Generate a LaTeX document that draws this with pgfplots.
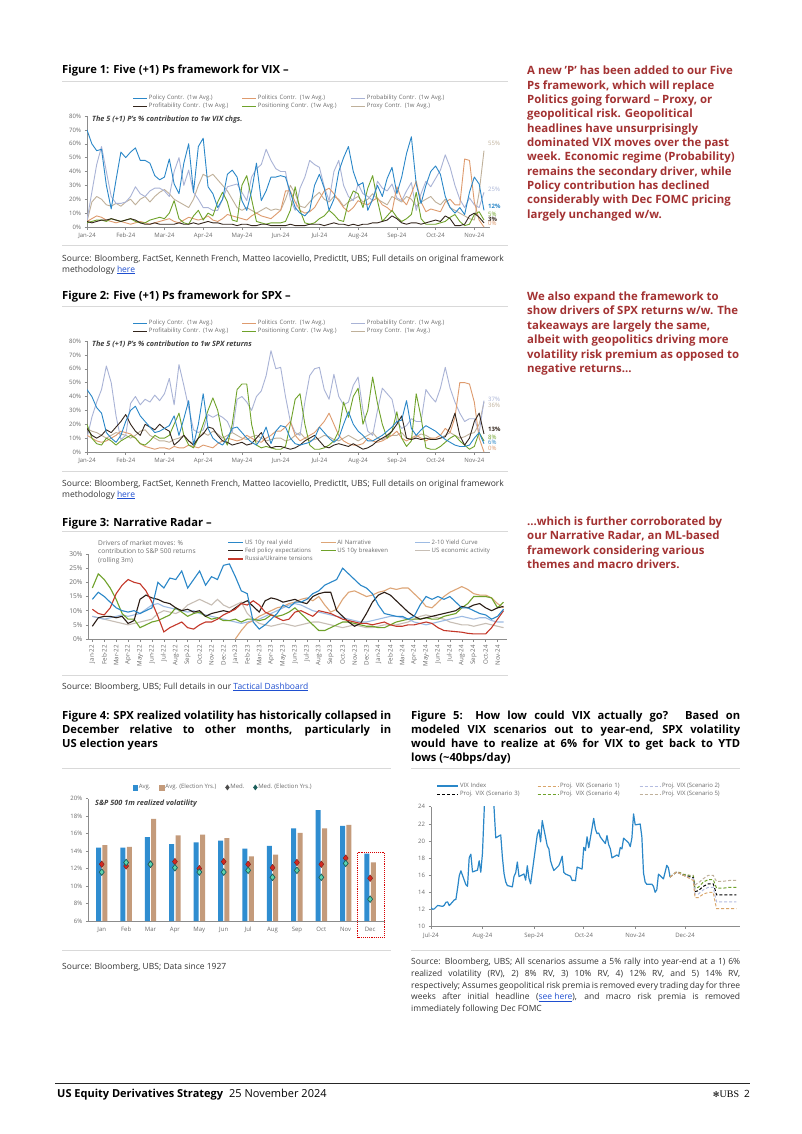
\documentclass[border=0pt]{standalone}
\usepackage{fontspec}
\setmainfont{Open Sans}
\newfontfamily\dejavu{DejaVu Sans}
\newfontfamily\lserif{Liberation Serif}
\usepackage{pgfplots}
\pgfplotsset{compat=1.18}
\definecolor{cpol}{HTML}{2A87C8}
\definecolor{cpolit}{HTML}{DE9B6E}
\definecolor{cprob}{HTML}{A9B3D6}
\definecolor{cprof}{HTML}{33251C}
\definecolor{cposn}{HTML}{6FA22A}
\definecolor{cprox}{HTML}{BFB09A}
\definecolor{axgray}{HTML}{8C8C8C}
\definecolor{labgray}{HTML}{6B6B6B}
\definecolor{rulegray}{HTML}{D9D9D9}
\definecolor{ubsred}{HTML}{A33232}
\definecolor{linkblue}{HTML}{1F4FD0}
\definecolor{srcgray}{HTML}{333333}
\definecolor{c3ai}{HTML}{DDA577}
\definecolor{c3yc}{HTML}{9DBBE3}
\definecolor{c3fed}{HTML}{2B1D16}
\definecolor{c3ea}{HTML}{C7BEB5}
\definecolor{c3ru}{HTML}{C4382A}
\definecolor{barblue}{HTML}{2F8DD0}
\definecolor{bartan}{HTML}{C49B7B}
\definecolor{medred}{HTML}{D42A22}
\definecolor{medredline}{HTML}{7A1A14}
\definecolor{medgreen}{HTML}{5CD6B0}
\definecolor{medgreenline}{HTML}{1B5E5A}
\definecolor{sc1}{HTML}{D9A56A}
\definecolor{sc2}{HTML}{B4BCE0}
\definecolor{sc4}{HTML}{6FA22A}
\definecolor{sc5}{HTML}{BFB09A}

\pgfplotsset{
  pg/.style={
    scale only axis, anchor=south west,
    axis x line*=bottom, axis y line*=left,
    axis line style={draw=axgray, line width=0.6pt},
    every tick/.style={draw=axgray, line width=0.5pt},
    tick align=outside, major tick length=2.5pt,
    tick label style={font=\fontsize{6}{7}\selectfont, text=labgray},
    /pgf/number format/assume math mode=true,
    legend style={draw=none, fill=none, font=\fontsize{6}{7}\selectfont, inner sep=0pt, outer sep=0pt, row sep=0pt,
      nodes={text=labgray, inner sep=1pt}},
    legend cell align=left,
  },
  ln/.style={line width=0.9pt, line join=round},
  sqlegend/.style={legend image code/.code={\fill[##1] (0pt,-2.3pt) rectangle (4.6pt,2.3pt);}},
}
\newcommand{\ser}[3]{\addplot[#1,forget plot] table[row sep=\\,header=false,x expr={#2},y index=0]{#3};}
\newcommand{\sertwo}[2]{\addplot[#1,forget plot] table[row sep=\\,header=false,x index=0,y index=1]{#2};}
\newcommand{\T}[4]{\node[anchor=base west,inner sep=0pt,#3] at (#1pt,-#2pt) {#4};}

\begin{document}
\begin{tikzpicture}[
  side/.style={font=\bfseries\fontsize{11.4}{13}\selectfont, text=ubsred},
  ttl/.style={font=\bfseries\fontsize{11.2}{13}\selectfont},
  src/.style={font=\fontsize{8.5}{10}\selectfont, text=srcgray},
  ann/.style={font=\bfseries\itshape\fontsize{7.3}{8}\selectfont, text=black!75},
  el/.style={font=\fontsize{6}{7}\selectfont}]
\fill[white] (0pt,0pt) rectangle (802pt,-1134pt);

% ---------- rules ----------
\foreach \y in {81,245,306.5,471.5,531.5,675}{\draw[rulegray,line width=0.6pt] (62pt,-\y pt) -- (508pt,-\y pt);}
\foreach \y in {768,950}{\draw[rulegray,line width=0.6pt] (62pt,-\y pt) -- (391pt,-\y pt);
  \draw[rulegray,line width=0.6pt] (411pt,-\y pt) -- (740pt,-\y pt);}

% ---------- titles ----------
\T{62}{74}{ttl}{Figure 1: Five (+1) Ps framework for VIX --}
\T{62}{299}{ttl}{Figure 2: Five (+1) Ps framework for SPX --}
\T{62}{526}{ttl}{Figure 3: Narrative Radar --}
\T{62}{719}{ttl}{\makebox[329pt][s]{Figure 4: SPX realized volatility has historically collapsed in}}
\T{62}{733.2}{ttl}{\makebox[329pt][s]{December relative to other months, particularly in}}
\T{62}{747.4}{ttl}{US election years}
\T{411}{719}{ttl}{\makebox[329pt][s]{Figure 5: How low could VIX actually go? Based on}}
\T{411}{733.2}{ttl}{\makebox[329pt][s]{modeled VIX scenarios out to year-end, SPX volatility}}
\T{411}{747.4}{ttl}{\makebox[329pt][s]{would have to realize at 6\% for VIX to get back to YTD}}
\T{411}{761.6}{ttl}{lows (\textasciitilde 40bps/day)}

% ---------- side text ----------
\T{527}{75}{side}{A new 'P' has been added to our Five}
\T{527}{89.3}{side}{Ps framework, which will replace}
\T{527}{103.6}{side}{Politics going forward -- Proxy, or}
\T{527}{117.9}{side}{geopolitical risk. Geopolitical}
\T{527}{132.2}{side}{headlines have unsurprisingly}
\T{527}{146.5}{side}{dominated VIX moves over the past}
\T{527}{160.8}{side}{week. Economic regime (Probability)}
\T{527}{175.1}{side}{remains the secondary driver, while}
\T{527}{189.4}{side}{Policy contribution has declined}
\T{527}{203.7}{side}{considerably with Dec FOMC pricing}
\T{527}{218}{side}{largely unchanged w/w.}
\T{527}{300}{side}{We also expand the framework to}
\T{527}{314.5}{side}{show drivers of SPX returns w/w. The}
\T{527}{329}{side}{takeaways are largely the same,}
\T{527}{343.5}{side}{albeit with geopolitics driving more}
\T{527}{358}{side}{volatility risk premium as opposed to}
\T{527}{372.5}{side}{negative returns\dots}
\T{527}{525}{side}{\dots which is further corroborated by}
\T{527}{539.5}{side}{our Narrative Radar, an ML-based}
\T{527}{554}{side}{framework considering various}
\T{527}{568.5}{side}{themes and macro drivers.}

% ---------- sources ----------
\T{62}{261}{src}{Source: Bloomberg, FactSet, Kenneth French, Matteo Iacoviello, PredictIt, UBS; Full details on original framework}
\T{62}{272}{src}{methodology \textcolor{linkblue}{\underline{here}}}
\T{62}{486}{src}{Source: Bloomberg, FactSet, Kenneth French, Matteo Iacoviello, PredictIt, UBS; Full details on original framework}
\T{62}{497}{src}{methodology \textcolor{linkblue}{\underline{here}}}
\T{62}{689}{src}{Source: Bloomberg, UBS; Full details in our \textcolor{linkblue}{\underline{Tactical Dashboard}}}
\T{62}{969}{src}{Source: Bloomberg, UBS; Data since 1927}
\T{411}{964.7}{src}{\makebox[329pt][s]{Source: Bloomberg, UBS; All scenarios assume a 5\% rally into year-end at a 1) 6\%}}
\T{411}{976.4}{src}{\makebox[329pt][s]{realized volatility (RV), 2) 8\% RV, 3) 10\% RV, 4) 12\% RV, and 5) 14\% RV,}}
\T{411}{988.1}{src}{\makebox[329pt][s]{respectively; Assumes geopolitical risk premia is removed every trading day for three}}
\T{411}{999.8}{src}{\makebox[329pt][s]{weeks after initial headline (\textcolor{linkblue}{\underline{see here}}), and macro risk premia is removed}}
\T{411}{1011.5}{src}{immediately following Dec FOMC}

% ---------- footer ----------
\draw[line width=0.8pt, black!85] (55pt,-1083pt) -- (750pt,-1083pt);
\T{57}{1097}{font=\fontsize{11}{12}\selectfont}{\textbf{US Equity Derivatives Strategy}\hspace{6pt}25 November 2024}
\node[anchor=base east,inner sep=0pt,font=\fontsize{10}{12}\selectfont] at (750pt,-1097pt) {{\dejavu\fontsize{8}{10}\selectfont ✻}{\lserif UBS}\hspace{5pt}2};

% ================= Chart 1 =================
\begin{axis}[pg, at={(87pt,-227pt)}, width=402.8pt, height=111pt, xmin=0, xmax=10.4, ymin=0, ymax=80,
  xtick={0,...,10}, xticklabels={Jan-24,Feb-24,Mar-24,Apr-24,May-24,Jun-24,Jul-24,Aug-24,Sep-24,Oct-24,Nov-24},
  ytick={0,10,...,80}, yticklabels={0\%,10\%,20\%,30\%,40\%,50\%,60\%,70\%,80\%},
  legend columns=3, legend style={at={(0.114,1.198)},anchor=north west},
  legend image code/.code={\draw[#1] (0pt,0pt) -- (14pt,0pt);}]
\addlegendimage{cpol,line width=1pt}\addlegendentry[text width=92pt]{Policy Contr. (1w Avg.)}
\addlegendimage{cpolit,line width=1pt}\addlegendentry[text width=92pt]{Politics Contr. (1w Avg.)}
\addlegendimage{cprob,line width=1pt}\addlegendentry[text width=92pt]{Probability Contr. (1w Avg.)}
\addlegendimage{cprof,line width=1pt}\addlegendentry[text width=92pt]{Profitability Contr. (1w Avg.)}
\addlegendimage{cposn,line width=1pt}\addlegendentry[text width=92pt]{Positioning Contr. (1w Avg.)}
\addlegendimage{cprox,line width=1pt}\addlegendentry[text width=92pt]{Proxy Contr. (1w Avg.)}
\ser{ln,cprox}{\coordindex*0.125}{4\\18\\22\\20\\16\\15\\17\\15\\ 18\\20\\16\\20\\22\\18\\22\\25\\ 27\\24\\20\\18\\16\\14\\20\\30\\ 38\\36\\38\\34\\30\\26\\20\\14\\ 12\\14\\12\\10\\12\\14\\12\\13\\ 12\\20\\30\\24\\15\\14\\18\\22\\ 25\\20\\18\\22\\20\\15\\18\\20\\ 22\\18\\20\\24\\20\\18\\16\\22\\ 20\\18\\22\\20\\15\\18\\20\\22\\ 18\\16\\20\\14\\12\\10\\8\\6\\ 5\\25\\55\\}
\ser{ln,cprob}{\coordindex*0.125}{5\\25\\45\\58\\40\\22\\17\\17\\ 18\\22\\29\\24\\22\\26\\28\\28\\ 26\\22\\40\\50\\30\\41\\25\\20\\ 14\\14\\12\\12\\20\\29\\30\\31\\ 25\\19\\36\\42\\45\\56\\48\\42\\ 40\\40\\20\\12\\28\\36\\48\\45\\ 43\\29\\19\\40\\48\\30\\22\\19\\ 31\\24\\22\\19\\33\\28\\26\\31\\ 21\\19\\26\\32\\12\\24\\33\\29\\ 35\\41\\52\\43\\30\\20\\14\\21\\ 16\\14\\25\\}
\ser{ln,cpolit}{\coordindex*0.125}{4\\6\\8\\7\\5\\4\\3\\4\\ 3\\2\\3\\4\\3\\2\\3\\4\\ 5\\6\\4\\3\\5\\7\\6\\5\\ 6\\8\\5\\4\\6\\9\\8\\7\\ 6\\5\\8\\10\\8\\7\\6\\9\\ 12\\26\\26\\18\\12\\10\\11\\14\\ 20\\26\\28\\24\\19\\14\\11\\14\\ 19\\17\\16\\19\\21\\16\\14\\11\\ 29\\20\\16\\24\\33\\18\\11\\13\\ 12\\11\\18\\20\\16\\16\\49\\48\\ 18\\5\\0\\}
\ser{ln,cposn}{\coordindex*0.125}{3\\4\\5\\5\\4\\6\\5\\4\\ 5\\6\\4\\3\\3\\5\\6\\7\\ 6\\10\\19\\6\\3\\2\\8\\12\\ 5\\10\\8\\18\\25\\18\\5\\4\\ 30\\37\\20\\4\\3\\2\\3\\3\\ 3\\4\\12\\29\\12\\3\\2\\3\\ 6\\8\\12\\9\\5\\4\\18\\26\\ 24\\14\\28\\37\\19\\4\\8\\12\\ 7\\4\\6\\9\\25\\6\\2\\2\\ 2\\3\\4\\7\\9\\4\\1\\2\\ 9\\11\\5\\}
\ser{ln,cprof}{\coordindex*0.125}{4\\3\\4\\5\\5\\6\\5\\4\\ 5\\6\\5\\3\\2\\2\\3\\2\\ 2\\2\\2\\3\\2\\2\\3\\2\\ 3\\4\\3\\3\\2\\2\\2\\1\\ 2\\2\\1\\1\\2\\2\\1\\1\\ 1\\1\\2\\1\\1\\1\\2\\2\\ 2\\1\\2\\3\\2\\2\\1\\2\\ 1\\2\\2\\3\\3\\4\\5\\8\\ 6\\3\\2\\3\\3\\2\\3\\4\\ 5\\4\\8\\6\\1\\1\\2\\8\\ 10\\7\\3\\}
\ser{ln,cpol}{\coordindex*0.125}{70\\60\\55\\56\\30\\13\\34\\54\\ 50\\54\\57\\48\\48\\46\\37\\34\\ 36\\49\\31\\24\\46\\60\\25\\58\\ 64\\29\\24\\14\\20\\38\\41\\36\\ 19\\12\\26\\46\\19\\26\\36\\36\\ 37\\36\\25\\14\\10\\8\\12\\30\\ 38\\28\\12\\20\\40\\50\\58\\40\\ 30\\32\\12\\20\\30\\22\\35\\43\\ 24\\36\\53\\65\\31\\17\\30\\40\\ 44\\38\\22\\14\\10\\14\\9\\25\\ 36\\31\\12\\}
\end{axis}
\T{92}{121.5}{ann}{The 5 (+1) P's \% contribution to 1w VIX chgs.}
\T{488}{146}{el,text=cprox}{55\%}
\T{488}{192}{el,text=cprob}{25\%}
\T{488}{208}{el,text=cpol,font=\bfseries\fontsize{6}{7}\selectfont}{12\%}
\T{488}{216}{el,text=cposn}{5\%}
\T{488}{221}{el,text=cprof,font=\bfseries\fontsize{6}{7}\selectfont}{3\%}
\T{488}{225.5}{el,text=cpolit}{0\%}

% ================= Chart 2 =================
\begin{axis}[pg, at={(87pt,-452pt)}, width=402.8pt, height=111pt, xmin=0, xmax=10.4, ymin=0, ymax=80,
  xtick={0,...,10}, xticklabels={Jan-24,Feb-24,Mar-24,Apr-24,May-24,Jun-24,Jul-24,Aug-24,Sep-24,Oct-24,Nov-24},
  ytick={0,10,...,80}, yticklabels={0\%,10\%,20\%,30\%,40\%,50\%,60\%,70\%,80\%},
  legend columns=3, legend style={at={(0.114,1.198)},anchor=north west},
  legend image code/.code={\draw[#1] (0pt,0pt) -- (14pt,0pt);}]
\addlegendimage{cpol,line width=1pt}\addlegendentry[text width=92pt]{Policy Contr. (1w Avg.)}
\addlegendimage{cpolit,line width=1pt}\addlegendentry[text width=92pt]{Politics Contr. (1w Avg.)}
\addlegendimage{cprob,line width=1pt}\addlegendentry[text width=92pt]{Probability Contr. (1w Avg.)}
\addlegendimage{cprof,line width=1pt}\addlegendentry[text width=92pt]{Profitability Contr. (1w Avg.)}
\addlegendimage{cposn,line width=1pt}\addlegendentry[text width=92pt]{Positioning Contr. (1w Avg.)}
\addlegendimage{cprox,line width=1pt}\addlegendentry[text width=92pt]{Proxy Contr. (1w Avg.)}
\ser{ln,cprox}{\coordindex*0.125}{17\\15\\14\\12\\10\\12\\14\\13\\ 12\\10\\12\\15\\16\\12\\10\\8\\ 8\\7\\9\\10\\12\\8\\6\\10\\ 14\\12\\15\\13\\10\\12\\14\\12\\ 10\\9\\11\\12\\10\\8\\9\\10\\ 10\\8\\9\\12\\14\\10\\8\\9\\ 10\\12\\11\\9\\8\\10\\12\\10\\ 8\\10\\12\\14\\10\\9\\11\\12\\ 12\\14\\10\\9\\11\\13\\12\\10\\ 9\\10\\12\\14\\12\\10\\11\\13\\ 14\\20\\36\\}
\ser{ln,cprob}{\coordindex*0.125}{10\\25\\36\\45\\62\\50\\26\\9\\ 12\\35\\40\\34\\38\\36\\41\\37\\ 42\\53\\34\\63\\48\\32\\16\\14\\ 16\\27\\25\\27\\25\\22\\14\\38\\ 40\\36\\30\\40\\44\\55\\73\\60\\ 61\\40\\22\\14\\12\\36\\55\\60\\ 61\\45\\38\\56\\40\\34\\36\\48\\ 54\\30\\15\\12\\30\\46\\42\\38\\ 22\\17\\19\\24\\22\\22\\45\\40\\ 36\\46\\61\\46\\36\\28\\22\\24\\ 24\\14\\37\\}
\ser{ln,cpolit}{\coordindex*0.125}{12\\10\\8\\7\\8\\10\\12\\15\\ 14\\13\\10\\6\\4\\3\\2\\3\\ 3\\2\\4\\3\\3\\5\\4\\3\\ 5\\4\\3\\6\\8\\10\\9\\8\\ 9\\12\\10\\8\\7\\10\\12\\15\\ 15\\18\\22\\12\\8\\10\\12\\14\\ 18\\22\\28\\20\\12\\8\\6\\5\\ 5\\6\\10\\8\\7\\8\\10\\12\\ 15\\10\\8\\10\\12\\10\\8\\10\\ 10\\12\\17\\14\\25\\50\\50\\49\\ 36\\10\\0\\}
\ser{ln,cposn}{\coordindex*0.125}{20\\10\\6\\5\\10\\8\\5\\8\\ 10\\12\\10\\6\\5\\8\\12\\10\\ 10\\12\\20\\28\\12\\5\\3\\10\\ 20\\30\\39\\30\\12\\5\\20\\45\\ 49\\49\\20\\5\\3\\4\\3\\2\\ 2\\4\\20\\38\\42\\20\\5\\2\\ 2\\3\\5\\8\\15\\36\\25\\40\\ 46\\20\\30\\54\\35\\20\\10\\15\\ 29\\10\\4\\8\\42\\25\\3\\2\\ 2\\4\\7\\10\\12\\8\\5\\2\\ 4\\14\\8\\}
\ser{ln,cprof}{\coordindex*0.125}{17\\12\\10\\12\\16\\14\\18\\22\\ 27\\20\\15\\12\\20\\18\\16\\20\\ 17\\15\\5\\8\\12\\8\\5\\10\\ 13\\18\\17\\12\\8\\7\\5\\6\\ 7\\5\\6\\10\\14\\7\\3\\4\\ 4\\3\\2\\3\\5\\8\\10\\12\\ 8\\4\\3\\5\\6\\5\\4\\6\\ 4\\2\\3\\5\\8\\10\\12\\15\\ 20\\26\\10\\9\\10\\9\\10\\9\\ 9\\10\\11\\18\\28\\12\\5\\10\\ 22\\28\\13\\}
\ser{ln,cpol}{\coordindex*0.125}{45\\40\\32\\28\\14\\10\\7\\12\\ 22\\30\\33\\26\\22\\18\\14\\15\\ 17\\19\\26\\12\\24\\37\\5\\20\\ 42\\17\\10\\7\\5\\10\\17\\18\\ 14\\10\\7\\5\\10\\18\\6\\15\\ 19\\18\\10\\6\\5\\6\\7\\10\\ 18\\14\\10\\7\\10\\20\\29\\20\\ 15\\12\\8\\8\\10\\12\\15\\18\\ 22\\23\\37\\17\\12\\16\\19\\17\\ 15\\12\\9\\7\\5\\4\\4\\5\\ 10\\14\\6\\}
\end{axis}
\T{92}{346.5}{ann}{The 5 (+1) P's \% contribution to 1w SPX returns}
\T{488}{401}{el,text=cprob}{37\%}
\T{488}{407.5}{el,text=cprox}{36\%}
\T{488}{431}{el,text=cprof,font=\bfseries\fontsize{6}{7}\selectfont}{13\%}
\T{488}{439}{el,text=cposn}{8\%}
\T{488}{444.5}{el,text=cpol}{6\%}
\T{488}{450.5}{el,text=cpolit}{0\%}

% ================= Chart 3 =================
\begin{axis}[pg, at={(88.4pt,-639pt)}, width=418.7pt, height=85pt, xmin=-0.33, xmax=34.8, ymin=0, ymax=30,
  xtick={0,...,34},
  xticklabels={Jan-22,Feb-22,Mar-22,Apr-22,May-22,Jun-22,Jul-22,Aug-22,Sep-22,Oct-22,Nov-22,Dec-22,Jan-23,Feb-23,Mar-23,Apr-23,May-23,Jun-23,Jul-23,Aug-23,Sep-23,Oct-23,Nov-23,Dec-23,Jan-24,Feb-24,Mar-24,Apr-24,May-24,Jun-24,Jul-24,Aug-24,Sep-24,Oct-24,Nov-24},
  xticklabel style={rotate=90, anchor=east, font=\fontsize{6.2}{7}\selectfont},
  ytick={0,5,...,30}, yticklabels={0\%,5\%,10\%,15\%,20\%,25\%,30\%},
  yticklabel style={font=\fontsize{6.6}{8}\selectfont},
  legend columns=3, legend style={at={(0.333,1.18)},anchor=north west, font=\fontsize{6}{7.2}\selectfont},
  legend image code/.code={\draw[#1] (0pt,0pt) -- (15pt,0pt);}]
\addlegendimage{cpol,line width=1.3pt}\addlegendentry[text width=74pt]{US 10y real yield}
\addlegendimage{c3ai,line width=1.3pt}\addlegendentry[text width=76pt]{AI Narrative}
\addlegendimage{c3yc,line width=1.3pt}\addlegendentry[text width=80pt]{2-10 Yield Curve}
\addlegendimage{c3fed,line width=1.3pt}\addlegendentry[text width=74pt]{Fed policy expectations}
\addlegendimage{cposn,line width=1.3pt}\addlegendentry[text width=76pt]{US 10y breakeven}
\addlegendimage{c3ea,line width=1.3pt}\addlegendentry[text width=80pt]{US economic activity}
\addlegendimage{c3ru,line width=1.3pt}\addlegendentry[text width=74pt]{Russia/Ukraine tensions}
\ser{line width=1.1pt,c3ea}{\coordindex*0.5}{8\\7.5\\7\\6.5\\6\\5.5\\5\\5.5\\6\\6.5\\ 7\\9\\10\\9.5\\9\\10\\12\\13\\14\\13\\ 12\\14\\12\\11\\12\\13\\9\\7\\5.5\\5\\ 4.5\\5\\5.5\\5\\4.5\\5\\5.5\\6\\6\\5.5\\ 5\\4.5\\4\\4.5\\5\\4.5\\4\\4\\4.5\\5\\ 5\\5\\5.5\\6\\7\\8\\8.5\\8\\7.5\\7\\ 6\\5.5\\5\\5\\4.5\\5\\5.5\\5\\4.5\\4\\}
\ser{line width=1.1pt,c3yc}{\coordindex*0.5}{8\\7.5\\7\\7.5\\8\\8.5\\8\\8.5\\9\\10.5\\ 12\\12.5\\11.5\\11\\10.5\\10\\9.5\\10\\9\\8.5\\ 8\\7.5\\7\\6.5\\6\\5.5\\6\\6.5\\7\\8\\ 9\\10\\11\\12\\12.5\\12\\11\\10\\9.5\\9\\ 8.5\\8\\7.5\\7\\6.5\\6\\6\\6.5\\7\\7.5\\ 8\\8\\7.5\\7\\6\\5.5\\5\\5.5\\6\\6.5\\ 7\\7.5\\8\\7.5\\7\\7.5\\7.5\\6.5\\6\\6\\}
\ser{line width=1.1pt,c3ai}{12+\coordindex*0.5}{0\\3\\5.5\\6.5\\8\\9\\10\\11\\11.5\\12.5\\ 13\\14\\14.5\\13.5\\15\\12\\9.5\\10.5\\14\\16.5\\ 17\\16\\15\\15.5\\16.5\\17\\18\\17.5\\18\\18\\ 16\\14\\11.5\\11\\13\\15\\16.5\\17.5\\18.5\\17.5\\ 16\\15.5\\15.5\\14.5\\12.5\\11\\}
\ser{line width=1.1pt,cposn}{\coordindex*0.5}{18\\23\\21\\18\\14\\9\\7\\7\\4\\5\\ 6\\6.5\\7.5\\8.5\\11\\9.5\\8\\9\\9.5\\8\\ 7\\7.5\\6.5\\6.5\\7\\6\\7\\7\\6.5\\7\\ 8.5\\8\\8.5\\9.5\\11\\9\\7\\5\\3\\3\\ 4\\5\\6\\6\\5.5\\5\\4.5\\4.5\\4\\4\\ 5\\6\\6.5\\7\\7\\7\\7.5\\7\\7\\8\\ 8.5\\9\\11\\12.5\\15\\15\\15\\14.5\\11\\13\\}
\ser{line width=1.1pt,c3fed}{\coordindex*0.5}{4.5\\7.5\\8\\8\\7.5\\8\\5.5\\6.5\\14\\15.5\\ 14.5\\14\\13\\12.5\\11\\10\\10.5\\9.5\\10\\8\\ 9\\9.5\\10\\9.5\\11\\12.5\\13.5\\11.5\\9.5\\13.5\\ 14.5\\14\\13\\13.5\\14\\13\\12.5\\15\\16\\16.5\\ 16.5\\10\\8\\6\\4.5\\5.5\\9\\13\\15.5\\16.5\\ 15.5\\13.5\\11.5\\9.5\\8\\7\\7.5\\8\\8.5\\9\\ 9.5\\10\\11.5\\11\\12\\12.5\\11\\10\\11\\11.5\\}
\ser{line width=1.1pt,c3ru}{\coordindex*0.5}{10.5\\9\\8.5\\11\\16\\19\\21\\20\\19.5\\17\\ 13\\8\\2.5\\4\\5\\6\\4\\3.5\\5\\6\\ 6\\7\\8.5\\9.5\\10.5\\12.5\\12\\13.5\\12\\9.5\\ 8.5\\7.5\\6.5\\7\\9.5\\10\\9\\8\\10\\9.5\\ 9\\8\\7\\6.5\\6\\5.5\\5.5\\5\\5.5\\6\\ 5\\4.5\\4.5\\5\\5\\5.5\\6\\5.5\\4\\3\\ 2.8\\2.6\\2.4\\2\\1.8\\1.8\\1.8\\4\\7\\10\\}
\ser{line width=1.1pt,cpol}{\coordindex*0.5}{14\\16.5\\15\\13\\11\\10\\9.5\\10\\9\\10\\ 11\\20\\18\\21.5\\21\\24\\18\\21\\24\\19\\ 22\\21\\26\\26.5\\22\\17\\16\\6\\3.5\\5\\ 7\\9\\12\\11\\13\\13\\14\\16\\17\\19\\ 20\\21\\25\\23\\21\\19\\18\\16\\12\\9\\ 8.5\\8\\8\\7\\8\\12\\15\\14\\15\\14\\ 15\\13\\11\\11\\10\\9\\8.5\\7\\8\\10.5\\}
\end{axis}
\node[anchor=north west,inner sep=0pt,align=left,font=\fontsize{6.6}{8.5}\selectfont,text=labgray] at (98pt,-540pt) {Drivers of market moves: \%\\contribution to S\&P 500 returns\\(rolling 3m)};

% ================= Chart 4 =================
\begin{axis}[pg, at={(88.3pt,-921pt)}, width=296.7pt, height=122.3pt, xmin=-0.55, xmax=11.61, ymin=6, ymax=20,
  xtick={0,...,11}, xticklabels={Jan,Feb,Mar,Apr,May,Jun,Jul,Aug,Sep,Oct,Nov,Dec},
  xtick style={draw=none},
  ytick={6,8,...,20}, yticklabels={6\%,8\%,10\%,12\%,14\%,16\%,18\%,20\%},
  legend columns=4, legend style={at={(0.15,1.125)},anchor=north west,
    /tikz/every even column/.append style={column sep=8pt}}]
\addlegendimage{sqlegend,barblue}\addlegendentry{Avg.}
\addlegendimage{sqlegend,bartan}\addlegendentry{Avg. (Election Yrs.)}
\addlegendimage{only marks,mark=diamond*,mark size=2.6pt,mark options={fill=black!70,draw=black!70}}\addlegendentry{Med.}
\addlegendimage{only marks,mark=diamond*,mark size=2.6pt,mark options={fill=medgreenline,draw=medgreenline}}\addlegendentry{Med. (Election Yrs.)}
\addplot[ybar,bar width=5pt,bar shift=-3.2pt,fill=barblue,draw=none,forget plot] coordinates {(0,14.4) (1,14.4) (2,15.6) (3,14.8) (4,15.0) (5,15.2) (6,14.3) (7,14.6) (8,16.6) (9,18.7) (10,16.9) (11,13.7)};
\addplot[ybar,bar width=5pt,bar shift=3.2pt,fill=bartan,draw=none,forget plot] coordinates {(0,14.7) (1,14.5) (2,17.7) (3,15.8) (4,15.9) (5,15.5) (6,13.4) (7,13.6) (8,16.1) (9,16.6) (10,17.0) (11,12.7)};
\addplot[only marks,mark=diamond*,mark size=3.3pt,mark options={fill=medred,draw=medredline,line width=0.4pt},forget plot] coordinates {(0,12.5) (1,12.3) (2,12.5) (3,12.8) (4,12.0) (5,12.8) (6,12.5) (7,12.1) (8,12.7) (9,12.5) (10,13.2) (11,10.9)};
\addplot[only marks,mark=diamond*,mark size=3.3pt,mark options={fill=medgreen,draw=medgreenline,line width=0.7pt},forget plot] coordinates {(0,11.6) (1,12.7) (2,12.5) (3,12.1) (4,11.6) (5,11.6) (6,11.8) (7,11.0) (8,11.8) (9,11.0) (10,12.6) (11,8.5)};
\end{axis}
\T{95}{805}{ann}{S\&P 500 1m realized volatility}
\draw[red!85!black, densely dotted, line width=1.1pt] (357.7pt,-852.7pt) rectangle (384.3pt,-937.7pt);

% ================= Chart 5 =================
\begin{axis}[pg, at={(431pt,-926.7pt)}, width=308.8pt, height=120pt, xmin=0, xmax=186, ymin=10, ymax=24,
  xtick={0,31,62,92,123,153}, xticklabels={Jul-24,Aug-24,Sep-24,Oct-24,Nov-24,Dec-24},
  ytick={10,12,...,24},
  legend columns=3, legend style={at={(0.019,1.206)},anchor=north west},
  legend image code/.code={\draw[#1] (0pt,0pt) -- (21pt,0pt);}]
\addlegendimage{cpol,line width=1.2pt}\addlegendentry[text width=76pt]{VIX Index}
\addlegendimage{sc1,line width=1pt,dash pattern=on 3pt off 2pt}\addlegendentry[text width=78pt]{Proj. VIX (Scenario 1)}
\addlegendimage{sc2,line width=1pt,dash pattern=on 3pt off 2pt}\addlegendentry{Proj. VIX (Scenario 2)}
\addlegendimage{black,line width=1pt,dash pattern=on 3pt off 2pt}\addlegendentry[text width=76pt]{Proj. VIX (Scenario 3)}
\addlegendimage{sc4,line width=1pt,dash pattern=on 3pt off 2pt}\addlegendentry[text width=78pt]{Proj. VIX (Scenario 4)}
\addlegendimage{sc5,line width=1pt,dash pattern=on 3pt off 2pt}\addlegendentry{Proj. VIX (Scenario 5)}
\sertwo{cpol,line width=1.2pt,line join=round}{0 12.22\\1 12.03\\2 12.09\\4 12.48\\7 12.37\\8 12.51\\9 12.85\\10 12.89\\11 12.46\\14 13.12\\15 13.19\\16 14.48\\17 15.93\\18 16.52\\21 14.91\\22 14.72\\23 18.04\\24 18.46\\25 16.39\\28 16.60\\29 17.69\\30 16.36\\31 18.59\\32 23.39\\35 38.57\\36 27.71\\37 27.85\\38 23.79\\39 20.37\\42 20.71\\43 18.12\\44 16.19\\45 15.23\\46 14.80\\49 14.65\\50 15.88\\51 16.27\\52 17.55\\53 15.86\\56 16.15\\57 15.43\\58 17.11\\59 15.65\\60 15.00\\64 20.72\\65 21.32\\66 19.90\\67 22.38\\70 19.45\\71 19.08\\72 17.69\\73 17.07\\74 16.56\\77 17.14\\78 17.61\\79 18.23\\80 16.33\\81 16.15\\84 15.89\\85 15.39\\86 15.41\\87 15.37\\88 16.96\\91 16.73\\92 19.26\\93 18.90\\94 20.49\\95 19.21\\98 22.64\\99 21.42\\100 20.86\\101 20.93\\102 20.46\\105 19.70\\106 20.64\\107 19.58\\108 19.11\\109 18.03\\112 18.37\\113 18.20\\114 19.24\\115 19.08\\116 20.33\\119 19.80\\120 19.34\\121 20.35\\122 23.16\\123 21.88\\126 21.98\\127 20.49\\128 16.27\\129 15.20\\130 14.94\\133 14.97\\134 14.71\\135 14.02\\136 14.31\\137 16.14\\140 15.58\\141 16.35\\142 17.16\\143 16.87\\144 15.80\\}
\addplot[sc5,line width=1pt,dash pattern=on 3pt off 2pt,forget plot] coordinates {(144,15.8) (146,16.1) (148,16.4) (150,16.3) (152,16.1) (154,16.1) (156,16.0) (158,16.0) (159,14.9) (161,15.1) (164,15.6) (167,16.0) (170,16.0) (171,15.6) (172,15.3) (176,15.3) (180,15.4) (184,15.4)};
\addplot[sc4,line width=1pt,dash pattern=on 3pt off 2pt,forget plot] coordinates {(144,15.8) (146,16.1) (148,16.4) (150,16.3) (152,16.1) (154,16.0) (156,15.9) (158,15.9) (159,14.5) (161,14.6) (164,15.2) (167,15.5) (170,15.5) (171,15.0) (172,14.5) (176,14.5) (180,14.6) (184,14.6)};
\addplot[black,line width=1pt,dash pattern=on 3pt off 2pt,forget plot] coordinates {(144,15.8) (146,16.1) (148,16.4) (150,16.2) (152,16.0) (154,15.9) (156,15.8) (158,15.7) (159,14.1) (161,14.2) (164,14.7) (167,15.0) (170,15.0) (171,14.4) (172,13.7) (176,13.7) (180,13.7) (184,13.7)};
\addplot[sc2,line width=1pt,dash pattern=on 3pt off 2pt,forget plot] coordinates {(144,15.8) (146,16.1) (148,16.4) (150,16.2) (152,16.0) (154,15.9) (156,15.7) (158,15.6) (159,13.8) (161,13.8) (164,14.3) (167,14.6) (170,14.6) (171,13.7) (172,12.9) (176,12.9) (180,12.9) (184,12.9)};
\addplot[sc1,line width=1pt,dash pattern=on 3pt off 2pt,forget plot] coordinates {(144,15.8) (146,16.1) (148,16.4) (150,16.2) (152,16.0) (154,15.8) (156,15.6) (158,15.4) (159,13.4) (161,13.4) (164,13.8) (167,14.0) (170,14.0) (171,13.0) (172,12.1) (176,12.1) (180,12.1) (184,12.1)};
\end{axis}
\end{tikzpicture}
\end{document}
